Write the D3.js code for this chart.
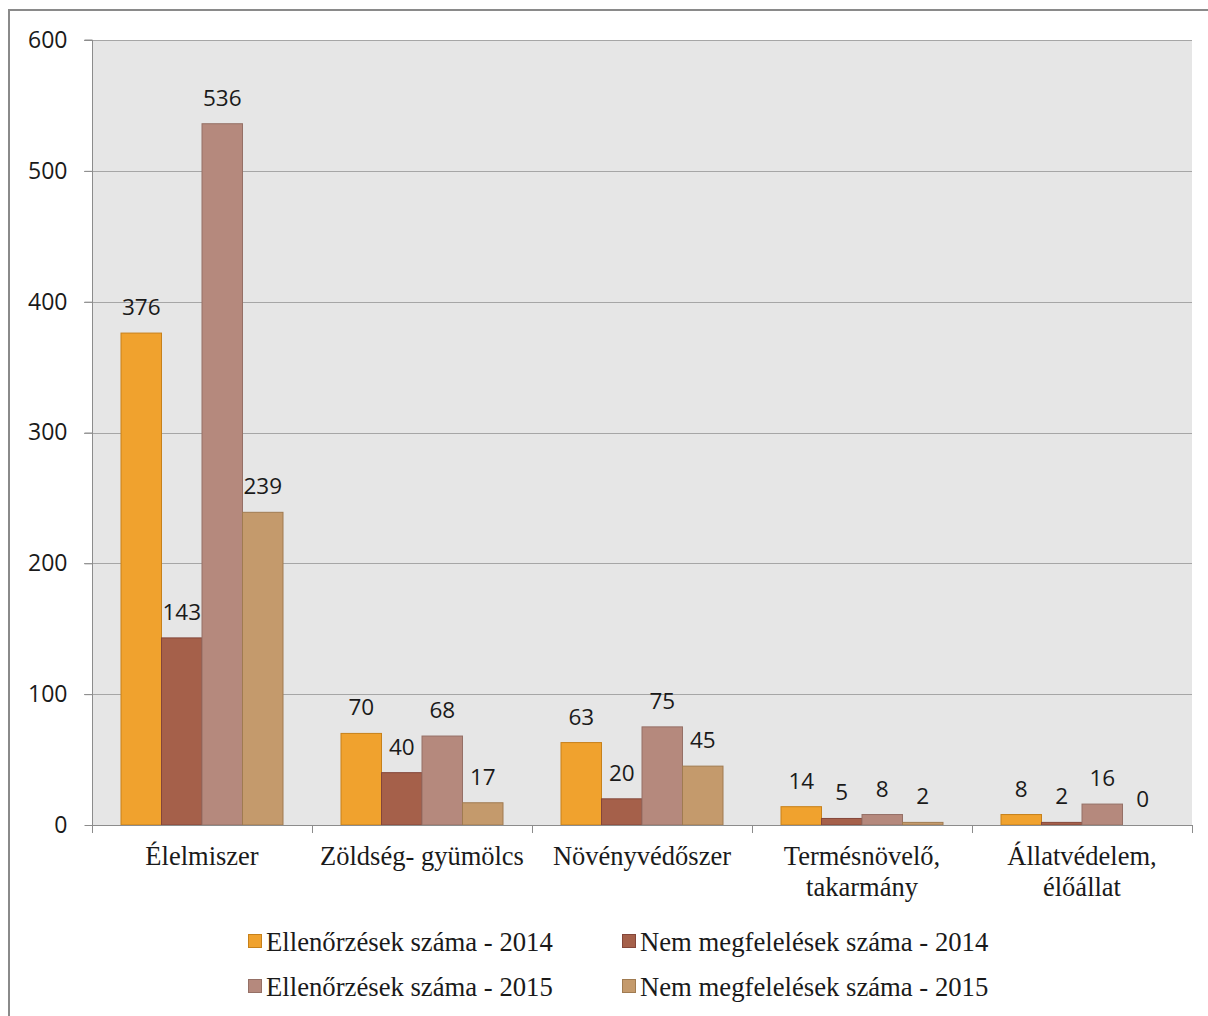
<!DOCTYPE html>
<html><head><meta charset="utf-8">
<script src="https://cdn.jsdelivr.net/npm/d3@7"></script>
<style>body{margin:0;background:#fff}svg{display:block}</style>
</head><body>
<script>
const categories = [["Élelmiszer"],["Zöldség- gyümölcs"],["Növényvédőszer"],["Termésnövelő,","takarmány"],["Állatvédelem,","élőállat"]];
const seriesNames = ["Ellenőrzések száma - 2014","Nem megfelelések száma - 2014","Ellenőrzések száma - 2015","Nem megfelelések száma - 2015"];
const ell2014 = [376,70,63,14,8];
const nem2014 = [143,40,20,5,2];
const ell2015 = [536,68,75,8,16];
const nem2015 = [239,17,45,2,0];
const yTicks = [0,100,200,300,400,500,600];
const colors = ["#F0A22E","#A5604A","#B5897D","#C49A6C"];
const strokes = ["#C7811A","#84463A","#957066","#A07B51"];

const series = [ell2014, nem2014, ell2015, nem2015];
const W=1208,H=1016;
const svg=d3.select("body").append("svg").attr("width",W).attr("height",H);
const sans="'Open Sans', sans-serif", serif="'Liberation Serif', serif";

// outer frame
svg.append("path").attr("d",`M9,${H} V10 H${W}`).attr("fill","none").attr("stroke","#8a8a8a").attr("stroke-width",2);

const L=92,R=1192,T=40,B=825;
const x=d3.scaleBand().domain(d3.range(categories.length)).range([L,R]).padding(0);
const xs=d3.scaleBand().domain(d3.range(series.length)).range([0,x.bandwidth()]).paddingInner(0).paddingOuter(0.716);
const y=d3.scaleLinear().domain([0,600]).range([B,T]);

svg.append("rect").attr("x",L).attr("y",T).attr("width",R-L).attr("height",B-T).attr("fill","#e6e6e6");

// gridlines
svg.append("g").selectAll("line").data(yTicks.filter(d=>d>0)).join("line")
 .attr("x1",L-8).attr("x2",R).attr("y1",d=>Math.round(y(d))+0.5).attr("y2",d=>Math.round(y(d))+0.5)
 .attr("stroke","#a6a6a6").attr("stroke-width",1);

// bars
series.forEach((vals,si)=>{
  const g=svg.append("g");
  g.selectAll("rect").data(vals).join("rect")
   .attr("x",(d,i)=>x(i)+xs(si)).attr("width",xs.bandwidth())
   .attr("y",d=>y(d)).attr("height",d=>B-y(d))
   .attr("fill",colors[si]).attr("stroke",strokes[si]).attr("stroke-width",1);
  g.selectAll("text").data(vals).join("text")
   .attr("x",(d,i)=>x(i)+xs(si)+xs.bandwidth()/2).attr("y",d=>y(d)-18)
   .attr("text-anchor","middle").attr("font-family",sans).attr("font-size",22.5).attr("fill","#1a1a1a")
   .text(d=>d);
});

// y axis
const ya=svg.append("g").attr("transform",`translate(${L+0.5},0)`)
 .call(d3.axisLeft(y).tickValues(yTicks).tickSize(8).tickPadding(17));
ya.select(".domain").attr("stroke","#8c8c8c").attr("d",`M-8,${y(600)}H0V${B}`);
ya.selectAll(".tick line").attr("stroke","#8c8c8c");
ya.selectAll(".tick text").attr("font-family",sans).attr("font-size",23).attr("fill","#1a1a1a");

// x axis
const xa=svg.append("g");
xa.append("line").attr("x1",L).attr("x2",R).attr("y1",B+0.5).attr("y2",B+0.5).attr("stroke","#8c8c8c");
xa.selectAll(".tk").data(d3.range(categories.length+1)).join("line")
 .attr("x1",i=>L+i*x.step()+0.5).attr("x2",i=>L+i*x.step()+0.5).attr("y1",B).attr("y2",B+8).attr("stroke","#8c8c8c");
categories.forEach((lines,i)=>{
  const cx=x(i)+x.bandwidth()/2;
  const t=xa.append("text").attr("x",cx).attr("y",865).attr("text-anchor","middle")
   .attr("font-family",serif).attr("font-size",26.5).attr("fill","#1a1a1a");
  lines.forEach((ln,j)=>t.append("tspan").attr("x",cx).attr("dy",j?31:0).text(ln));
});

// legend
const lg=svg.append("g");
const lpos=[[248,942],[622,942],[248,987],[622,987]];
seriesNames.forEach((n,i)=>{
  const [lx,ly]=lpos[i];
  lg.append("rect").attr("x",lx+0.5).attr("y",ly-7.5).attr("width",13).attr("height",13)
   .attr("fill",colors[i]).attr("stroke",strokes[i]);
  lg.append("text").attr("x",lx+18).attr("y",ly+9).attr("font-family",serif).attr("font-size",26.7).attr("fill","#1a1a1a").text(n);
});
</script>
</body></html>
